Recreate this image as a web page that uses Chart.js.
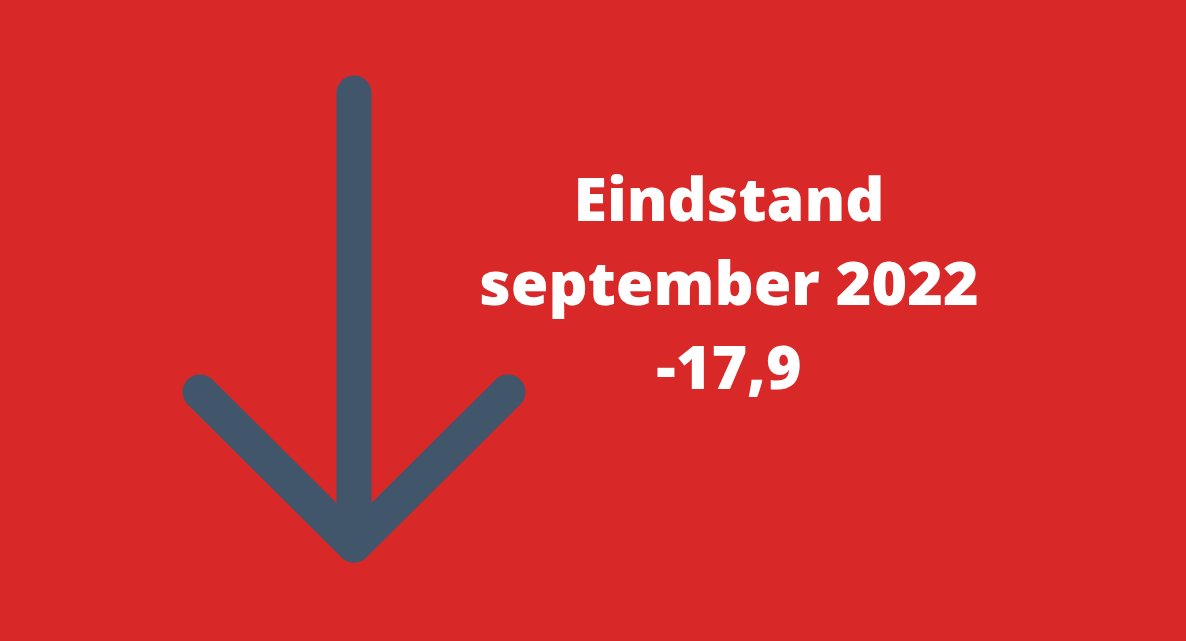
<!DOCTYPE html>
<html>
<head>
<meta charset="utf-8">
<title>Eindstand september 2022</title>
<script src="https://cdn.jsdelivr.net/npm/chart.js@4"></script>
<style>
  html, body { margin: 0; padding: 0; background: #d92828; }
  #wrap { position: relative; width: 1186px; height: 641px; overflow: hidden; }
  #arrowChart { position: absolute; left: 0; top: 0; }
  #label {
    position: absolute; left: 429px; width: 600px; top: 156px;
    text-align: center; color: #fff;
    font-family: "Open Sans", sans-serif; font-weight: 800;
    font-size: 61px; line-height: 84px; letter-spacing: 0;
  }
</style>
</head>
<body>
<div id="wrap">
  <canvas id="arrowChart" width="1186" height="641"></canvas>
  <div id="label">
    <div id="line1"></div>
    <div id="line2"></div>
    <div id="line3"></div>
  </div>
</div>
<script>
(function() {
  'use strict';

  // text of the graphic
  var titleLines = ['Eindstand', 'september 2022', '-17,9'];

  // arrow drawn as two polylines (x / y in canvas units)
  var shaftX = [354, 354];
  var shaftY = [93, 545];
  var headX = [200, 354, 508];
  var headY = [392, 545, 392];

  var arrowColor = '#42566b';

  document.getElementById('line1').textContent = titleLines[0];
  document.getElementById('line2').textContent = titleLines[1];
  document.getElementById('line3').textContent = titleLines[2];

  function toPoints(xs, ys) {
    return xs.map(function(x, i) { return { x: x, y: ys[i] }; });
  }

  var lineStyle = {
    showLine: true,
    borderColor: arrowColor,
    backgroundColor: arrowColor,
    borderWidth: 35,
    borderCapStyle: 'round',
    borderJoinStyle: 'round',
    pointRadius: 0,
    fill: false,
    clip: false
  };

  var ctx = document.getElementById('arrowChart');
  new Chart(ctx, {
    type: 'scatter',
    data: {
      datasets: [
        Object.assign({ label: 'shaft', data: toPoints(shaftX, shaftY) }, lineStyle),
        Object.assign({ label: 'head', data: toPoints(headX, headY) }, lineStyle)
      ]
    },
    options: {
      responsive: false,
      animation: false,
      layout: { padding: 0 },
      plugins: { legend: { display: false }, tooltip: { enabled: false } },
      scales: {
        x: { type: 'linear', min: 0, max: 1186, display: false },
        y: { type: 'linear', min: 0, max: 641, reverse: true, display: false }
      }
    }
  });
}());
</script>
</body>
</html>
